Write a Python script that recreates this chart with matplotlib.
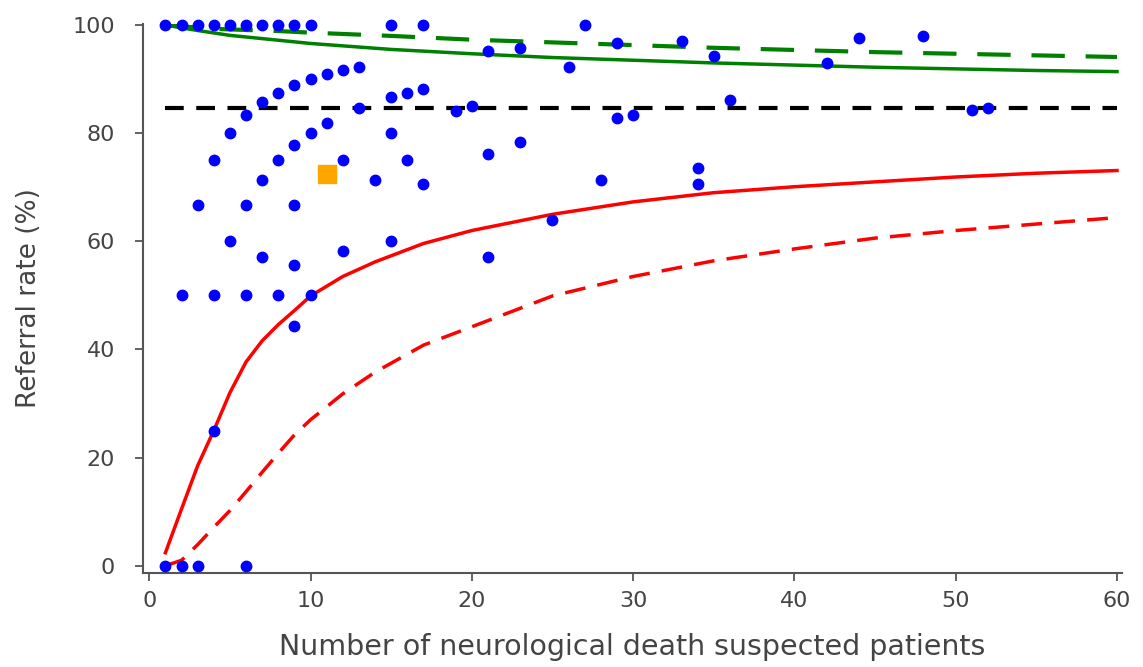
import numpy as np
import matplotlib
matplotlib.use("Agg")
import matplotlib.pyplot as plt

# hospital points: number of suspected patients vs referral rate (%)
hosp_n = [1, 2, 3, 4, 5, 6, 7, 8, 9, 10, 15, 17, 27,
          1, 2, 3, 6,
          2, 4, 6, 8, 10,
          3, 6, 9,
          4, 8, 12, 16,
          4,
          5, 10, 15,
          5, 15,
          7, 9, 12,
          9,
          6, 7, 8, 9, 10, 11, 12, 13,
          13, 15, 16, 17,
          11, 9,
          7, 14, 17,
          19, 20, 21, 21, 21, 23, 23,
          25, 26, 28, 29, 29, 30, 33, 34, 34, 35, 36, 42, 44, 48, 51, 52]
hosp_rate = [100, 100, 100, 100, 100, 100, 100, 100, 100, 100, 100, 100, 100,
             0, 0, 0, 0,
             50, 50, 50, 50, 50,
             66.7, 66.7, 66.7,
             75, 75, 75, 75,
             25,
             80, 80, 80,
             60, 60,
             57.1, 55.6, 58.3,
             44.4,
             83.3, 85.7, 87.5, 88.9, 90, 90.9, 91.7, 92.3,
             84.6, 86.7, 87.5, 88.2,
             81.8, 77.8,
             71.4, 71.4, 70.6,
             84.2, 85, 95.2, 76.2, 57.1, 95.7, 78.3,
             64, 92.3, 71.4, 96.6, 82.8, 83.3, 97, 73.5, 70.6, 94.3, 86.1, 92.9, 97.7, 97.9, 84.3, 84.6]

# highlighted hospital
own_n = [11]
own_rate = [72.5]

# overall mean
mean_x = [1, 60]
mean_y = [84.7, 84.7]

# control limits
up_in_x = [1, 3, 5, 10, 15, 20, 25, 30, 35, 40, 45, 50, 55, 60]
up_in_y = [100, 99.0, 98.1, 96.6, 95.5, 94.7, 94.0, 93.5, 93.0, 92.6, 92.2, 91.9, 91.6, 91.4]
up_out_x = [1, 4, 8, 10, 15, 20, 25, 30, 35, 40, 45, 50, 55, 60]
up_out_y = [100, 99.3, 98.9, 98.6, 98.0, 97.3, 96.8, 96.3, 95.8, 95.4, 95.0, 94.7, 94.4, 94.1]

lo_in_x = [1, 2, 3, 4, 5, 6, 7, 8, 9, 10, 12, 14, 17, 20, 25, 30, 35, 40, 45, 50, 55, 60]
lo_in_y = [2.4, 10.5, 18.5, 25, 32, 37.7, 41.6, 44.6, 47.2, 49.9, 53.5, 56.2, 59.6, 62.0,
           65.0, 67.3, 69.0, 70.1, 71.0, 71.9, 72.6, 73.1]
lo_out_x = [1, 2, 3, 4, 5, 6, 7, 8, 9, 10, 12, 14, 17, 20, 25, 30, 35, 40, 45, 50, 55, 60]
lo_out_y = [0, 1.0, 3.9, 7.1, 10.2, 13.7, 17.3, 20.8, 24.2, 27.0, 31.8, 35.8, 40.8, 44.2,
            49.9, 53.5, 56.4, 58.6, 60.6, 62.0, 63.2, 64.4]

fig = plt.figure(figsize=(11.43, 6.67), dpi=100)
ax = fig.add_axes([0.1251, 0.1414, 0.8565, 0.8226])

ax.plot(up_out_x, up_out_y, color="#008000", lw=3, dashes=(8, 5))
ax.plot(up_in_x, up_in_y, color="#008000", lw=2.5)
ax.plot(lo_in_x, lo_in_y, color="#ff0000", lw=2.5)
ax.plot(lo_out_x, lo_out_y, color="#ff0000", lw=2.5, dashes=(6, 3.5))
ax.plot(mean_x, mean_y, color="black", lw=3, dashes=(4.5, 3))

ax.plot(hosp_n, hosp_rate, "o", color="#0000ff", markersize=7.5, clip_on=False, zorder=4)
ax.plot(own_n, own_rate, "s", color="#ffa500", markersize=12.5, zorder=5)

ax.set_xlim(-0.39, 60.31)
ax.set_ylim(-1.29, 100.2)
ax.set_xticks(range(0, 61, 10))
ax.set_yticks(range(0, 101, 20))
for s in ["top", "right"]:
    ax.spines[s].set_visible(False)
for s in ["left", "bottom"]:
    ax.spines[s].set_color("#555555")
    ax.spines[s].set_linewidth(1.5)
ax.tick_params(direction="out", length=6, width=1.3, color="#555555",
               labelsize=16, labelcolor="#444444")
ax.tick_params(axis="y", pad=14)
ax.tick_params(axis="x", pad=7)
ax.set_xlabel("Number of neurological death suspected patients", fontsize=20.5,
              color="#444444", labelpad=16)
ax.set_ylabel("Referral rate (%)", fontsize=19, color="#444444", labelpad=22)

fig.savefig("out.png", dpi=100)
